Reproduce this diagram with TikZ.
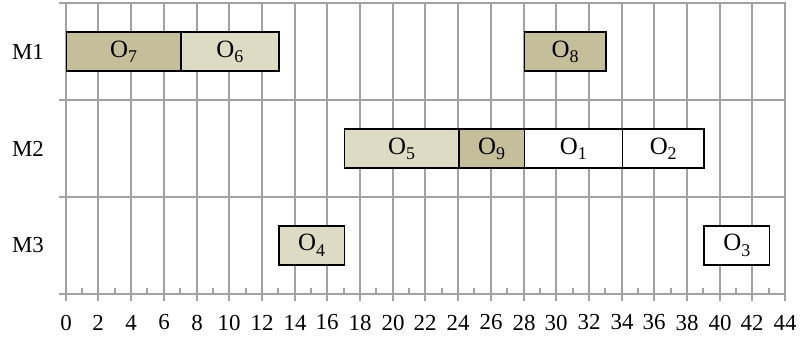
\documentclass[tikz,border=0pt]{standalone}
\usepackage{fontspec}
\setmainfont{Liberation Serif}
\definecolor{darktan}{HTML}{C5BE9B}
\definecolor{lighttan}{HTML}{DEDBC4}
\definecolor{gridgray}{HTML}{A2A2A2}
\newcommand{\opname}[1]{O\raisebox{-5.5pt}{\fontsize{18}{18}\selectfont #1}}
\begin{document}
\begin{tikzpicture}[x=1bp,y=-1bp,
  gridline/.style={draw=gridgray, line width=2bp},
  opbox/.style={draw=black, line width=1.5bp, minimum height=39bp, inner sep=0pt, anchor=west,
    font=\fontsize{25}{26}\selectfont},
  ticklabel/.style={font=\fontsize{23}{24}\selectfont, inner sep=0pt},
  rowlabel/.style={font=\fontsize{23}{24}\selectfont, inner sep=0pt}]
\useasboundingbox (0,0) rectangle (800,338);
\pgfmathsetmacro{\u}{16.35}
\pgfmathsetmacro{\xo}{65.7}
% horizontal grid lines
\foreach \yy in {3,100,197,294} \draw[gridline] (59,\yy) -- (786,\yy);
% vertical grid lines and labels
\foreach \t in {0,2,...,44} {
  \pgfmathsetmacro{\xx}{round(\xo+\u*\t)}
  \draw[gridline] (\xx,3) -- (\xx,301);
  \node[ticklabel] (lab\t) at (\xx,322.5) {\t};
}
% minor ticks
\foreach \t in {1,3,...,43} {
  \pgfmathsetmacro{\xx}{round(\xo+\u*\t)}
  \draw[gridline] (\xx,288) -- (\xx,294);
}
% row labels
\node[rowlabel] (m1) at (28,51.7) {M1};
\node[rowlabel] (m2) at (28,148.7) {M2};
\node[rowlabel] (m3) at (28,245.5) {M3};
% operations
\node[opbox, fill=darktan, minimum width={7*\u bp}] (o7) at ({\xo+\u*0},51.7) {\opname{7}};
\node[opbox, fill=lighttan, minimum width={6*\u bp}] (o6) at ({\xo+\u*7},51.7) {\opname{6}};
\node[opbox, fill=darktan, minimum width={5*\u bp}] (o8) at ({\xo+\u*28},51.7) {\opname{8}};
\node[opbox, fill=lighttan, minimum width={7*\u bp}] (o5) at ({\xo+\u*17},148.7) {\opname{5}};
\node[opbox, fill=darktan, minimum width={4*\u bp}] (o9) at ({\xo+\u*24},148.7) {\opname{9}};
\node[opbox, fill=white, minimum width={6*\u bp}] (o1) at ({\xo+\u*28},148.7) {\opname{1}};
\node[opbox, fill=white, minimum width={5*\u bp}] (o2) at ({\xo+\u*34},148.7) {\opname{2}};
\node[opbox, fill=lighttan, minimum width={4*\u bp}] (o4) at ({\xo+\u*13},245.4) {\opname{4}};
\node[opbox, fill=white, minimum width={4*\u bp}] (o3) at ({\xo+\u*39},245.4) {\opname{3}};
\end{tikzpicture}
\end{document}
